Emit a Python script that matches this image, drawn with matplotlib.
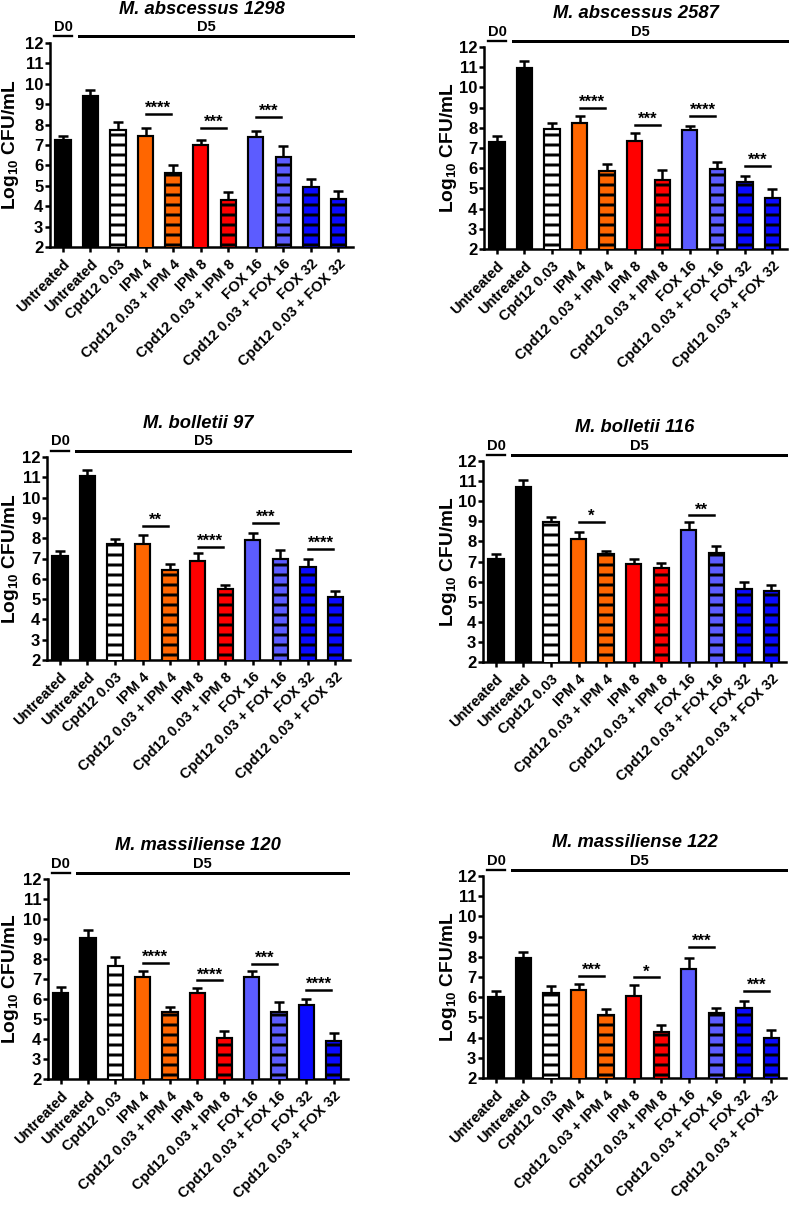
import matplotlib
matplotlib.use('Agg')
import matplotlib.pyplot as plt
import numpy as np

plt.rcParams['font.family'] = ['Liberation Sans', 'DejaVu Sans']
plt.rcParams['font.weight'] = 'bold'
plt.rcParams['hatch.linewidth'] = 1.8
plt.rcParams['mathtext.fontset'] = 'custom'
plt.rcParams['mathtext.rm'] = 'Liberation Sans:bold'
plt.rcParams['mathtext.it'] = 'Liberation Sans:bold:italic'
plt.rcParams['mathtext.bf'] = 'Liberation Sans:bold'

categories = ['Untreated', 'Untreated', 'Cpd12 0.03', 'IPM 4', 'Cpd12 0.03 + IPM 4',
              'IPM 8', 'Cpd12 0.03 + IPM 8', 'FOX 16', 'Cpd12 0.03 + FOX 16',
              'FOX 32', 'Cpd12 0.03 + FOX 32']

titles = ['M. abscessus 1298', 'M. abscessus 2587', 'M. bolletii 97',
          'M. bolletii 116', 'M. massiliense 120', 'M. massiliense 122']

abs1298_mean = [7.23, 9.39, 7.72, 7.46, 5.63, 6.98, 4.30, 7.39, 6.41, 4.92, 4.35]
abs1298_err = [0.23, 0.29, 0.39, 0.36, 0.37, 0.28, 0.38, 0.28, 0.52, 0.41, 0.41]
abs2587_mean = [7.28, 10.96, 7.92, 8.25, 5.88, 7.36, 5.42, 7.89, 5.95, 5.32, 4.53]
abs2587_err = [0.31, 0.35, 0.30, 0.33, 0.33, 0.40, 0.49, 0.21, 0.38, 0.27, 0.46]
bol97_mean = [7.11, 11.05, 7.72, 7.72, 6.44, 6.90, 5.51, 7.93, 6.98, 6.57, 5.11]
bol97_err = [0.25, 0.30, 0.26, 0.46, 0.28, 0.35, 0.18, 0.33, 0.43, 0.41, 0.28]
bol116_mean = [7.13, 10.70, 8.95, 8.12, 7.36, 6.87, 6.69, 8.55, 7.43, 5.65, 5.53]
bol116_err = [0.22, 0.36, 0.24, 0.33, 0.18, 0.25, 0.24, 0.40, 0.33, 0.33, 0.28]
mas120_mean = [6.32, 9.03, 7.67, 7.10, 5.33, 6.28, 4.05, 7.12, 5.37, 5.72, 3.88]
mas120_err = [0.26, 0.42, 0.45, 0.30, 0.29, 0.29, 0.35, 0.30, 0.46, 0.26, 0.44]
mas122_mean = [5.99, 7.96, 6.19, 6.36, 5.12, 6.06, 4.26, 7.38, 5.23, 5.47, 3.96]
mas122_err = [0.33, 0.28, 0.38, 0.28, 0.28, 0.53, 0.35, 0.54, 0.26, 0.33, 0.42]

# significance: (left bar index, line height, label)
abs1298_sig = [(3, 8.54, '****'), (5, 7.85, '***'), (7, 8.36, '***')]
abs2587_sig = [(3, 9.00, '****'), (5, 8.13, '***'), (7, 8.58, '****'), (9, 6.13, '***')]
bol97_sig = [(3, 8.59, '**'), (5, 7.59, '****'), (7, 8.75, '***'), (9, 7.46, '****')]
bol116_sig = [(3, 8.96, '*'), (7, 9.29, '**')]
mas120_sig = [(3, 7.80, '****'), (5, 6.93, '****'), (7, 7.77, '***'), (9, 6.45, '****')]
mas122_sig = [(3, 7.07, '***'), (5, 6.98, '*'), (7, 8.50, '***'), (9, 6.32, '***')]

fox32_hatched = [True, True, True, True, False, True]

means = [abs1298_mean, abs2587_mean, bol97_mean, bol116_mean, mas120_mean, mas122_mean]
errs = [abs1298_err, abs2587_err, bol97_err, bol116_err, mas120_err, mas122_err]
sigs = [abs1298_sig, abs2587_sig, bol97_sig, bol116_sig, mas120_sig, mas122_sig]

colors = ['#000000', '#000000', '#FFFFFF', '#FF6600', '#FF6600', '#FF0000', '#FF0000',
          '#5C5CFF', '#5C5CFF', '#0A0AFF', '#0A0AFF']

W, H = 789, 1205
DPI = 120
# axes boxes in pixels: left, right, top, bottom
boxes = [(50, 353, 43, 247), (484, 787, 47, 249),
         (47, 350, 457, 660), (483, 786, 461, 662),
         (48, 348, 879, 1079), (483, 786, 876, 1078)]
label_px = [21, 459, 21, 459, 21, 459]

fig = plt.figure(figsize=(W / DPI, H / DPI), dpi=DPI)

for k in range(6):
    l, r, t, b = boxes[k]
    ax = fig.add_axes([l / W, 1 - b / H, (r - l) / W, (b - t) / H])
    x = np.arange(len(categories))
    m = np.array(means[k])
    e = np.array(errs[k])
    hatches = ['', '', '--', '', '--', '', '--', '', '--',
               '--' if fox32_hatched[k] else '', '--']
    bars = ax.bar(x, m, width=0.56, color=colors, edgecolor='black',
                  linewidth=1.3, zorder=3)
    for p, h in zip(bars, hatches):
        p.set_hatch(h)
    ax.errorbar(x, m, yerr=[np.zeros_like(e), e], fmt='none', ecolor='black',
                elinewidth=1.5, capsize=3, capthick=1.5, zorder=2)
    ax.set_ylim(2, 12)
    ax.set_yticks(range(2, 13))
    ax.set_xlim(-0.47, 10.53)
    ax.set_xticks(x)
    ax.set_xticklabels(categories, rotation=45, ha='right', va='top',
                       rotation_mode='anchor', fontsize=8.8, fontweight='bold')
    for s in ['top', 'right']:
        ax.spines[s].set_visible(False)
    for s in ['left', 'bottom']:
        ax.spines[s].set_linewidth(1.5)
    ax.tick_params(axis='both', width=1.5, length=3)
    ax.tick_params(axis='y', labelsize=10, pad=1.0)
    ax.tick_params(axis='x', pad=3)
    ax.set_ylabel('Log$_{10}$ CFU/mL', fontsize=11.5, fontweight='bold')
    ax.yaxis.set_label_coords((label_px[k] - l) / (r - l), 0.5)

    # title
    ax.annotate(titles[k], xy=(0.5, 1.0), xycoords='axes fraction',
                xytext=(0, 17.4), textcoords='offset points', ha='center',
                va='baseline', fontsize=11, fontweight='bold', style='italic')

    # D0 / D5 annotations
    ax.plot([-0.33, 0.33], [12.32, 12.32], color='black', lw=1.4, clip_on=False)
    ax.text(0, 12.42, 'D0', ha='center', va='bottom', fontsize=8.8, fontweight='bold',
            clip_on=False)
    ax.plot([0.6, 10.53], [12.32, 12.32], color='black', lw=1.8, clip_on=False)
    ax.text(5.2, 12.42, 'D5', ha='center', va='bottom', fontsize=8.8, fontweight='bold',
            clip_on=False)

    # significance
    for (i, y, lab) in sigs[k]:
        ax.plot([i, i + 0.92], [y, y], color='black', lw=1.5, clip_on=False)
        ax.text(i + 0.46, y + 0.05, lab, ha='center', va='baseline', fontsize=10,
                fontweight='bold')

fig.savefig('out.png', dpi=DPI)
